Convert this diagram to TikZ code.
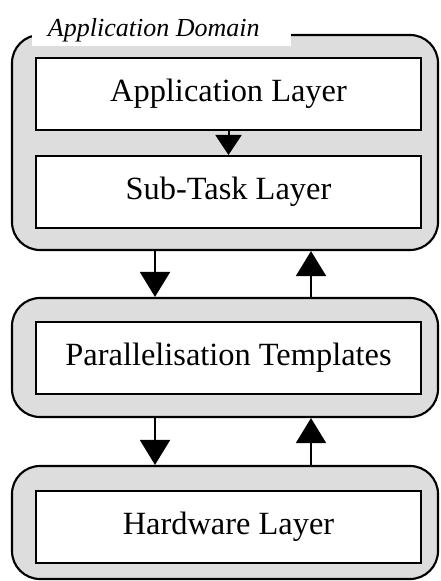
\documentclass[tikz,border=0pt]{standalone}
\usepackage{fontspec}
\setmainfont{Liberation Serif}
\usepackage{tikz}
\usetikzlibrary{arrows.meta,positioning}

\definecolor{domgrey}{RGB}{221,221,221}
\newcommand{\px}{0.75pt}

\tikzset{
  domainbox/.style={draw=black,fill=domgrey,line width=1.6pt,rounded corners=21pt,
    minimum width=426*\px,inner sep=0pt},
  layerbox/.style={draw=black,fill=white,line width=1.5pt,minimum width=385*\px,
    minimum height=72*\px,inner sep=0pt,font=\fontsize{24.3}{27}\selectfont},
  flowarrow/.style={line width=1.5pt,-{Triangle[width=30*\px,length=25*\px]}},
}

\begin{document}
\begin{tikzpicture}[x=0.75pt,y=-0.75pt]
\useasboundingbox (0,0) rectangle (440,581);

%grey domains
\node[domainbox,minimum height=215*\px] (Adom) at (225,142.5) {};
\node[domainbox,minimum height=119*\px] (Pdom) at (225,357.5) {};
\node[domainbox,minimum height=113*\px] (Hdom) at (225,522.5) {};

%label of the top domain
\node[draw=none,fill=white,anchor=north west,minimum width=259*\px,minimum height=38*\px,
  inner sep=0pt,text depth=0pt,font=\fontsize{19.5}{21}\itshape] (Atext) at (32,8)
  {\hspace*{-12pt}Application Domain};

%layers
\node[layerbox] (app) at (228.5,94) {Application Layer};
\node[layerbox,below=24*\px of app] (sub) {Sub-Task Layer};
\node[layerbox] (par) at (228.5,357.5) {Parallelisation Templates};
\node[layerbox] (hw) at (228.5,526.5) {Hardware Layer};

%arrows
\draw[line width=1.5pt,-{Triangle[width=26*\px,length=20*\px]}] (app) -- (sub);
\draw[flowarrow] ([xshift=-70*\px]Adom.south) -- ([xshift=-70*\px]Pdom.north);
\draw[flowarrow] ([xshift=86*\px]Pdom.north) -- ([xshift=86*\px]Adom.south);
\draw[flowarrow] ([xshift=-70*\px]Pdom.south) -- ([xshift=-70*\px]Hdom.north);
\draw[flowarrow] ([xshift=86*\px]Hdom.north) -- ([xshift=86*\px]Pdom.south);

\end{tikzpicture}
\end{document}
